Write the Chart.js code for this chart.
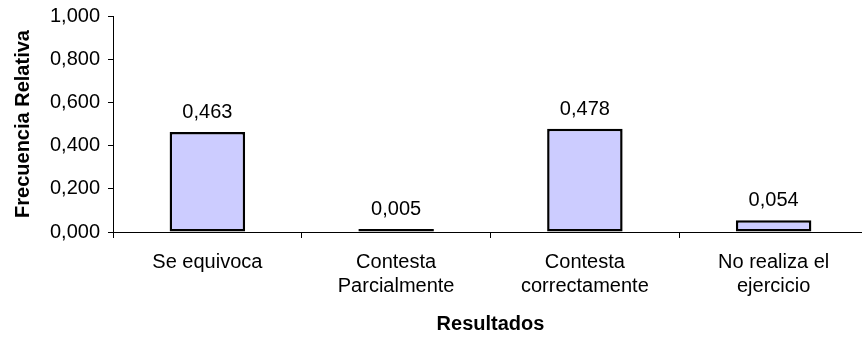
<!DOCTYPE html>
<html>
<head>
<meta charset="utf-8">
<script src="https://cdn.jsdelivr.net/npm/chart.js@4.4.1/dist/chart.umd.min.js"></script>
<style>
  html, body { margin: 0; padding: 0; background: #fff; overflow: hidden; }
  #wrap { width: 870px; height: 337px; }
</style>
</head>
<body>
<div id="wrap"><canvas id="resultChart" width="870" height="337"></canvas></div>
<script>
const categories = [
    ["Se equivoca"],
    ["Contesta", "Parcialmente"],
    ["Contesta", "correctamente"],
    ["No realiza el", "ejercicio"]
];
const frecuencias = [0.463, 0.005, 0.478, 0.054];
const yTicks = [0, 0.2, 0.4, 0.6, 0.8, 1.0];

const FONT = "'Liberation Sans', Arial, sans-serif";

// comma as decimal separator
function fmt(v) {
    return v.toFixed(3).replace(".", ",");
}

// draw value above every bar
const valueLabels = {
    id: "valueLabels",
    afterDatasetsDraw(chart) {
        const ctx = chart.ctx;
        const meta = chart.getDatasetMeta(0);
        ctx.save();
        ctx.font = "20px " + FONT;
        ctx.fillStyle = "#000";
        ctx.textAlign = "center";
        ctx.textBaseline = "alphabetic";
        meta.data.forEach((bar, i) => {
            ctx.fillText(fmt(frecuencias[i]), bar.x, bar.y - 14);
        });
        ctx.restore();
    }
};

new Chart(document.getElementById("resultChart"), {
    type: "bar",
    data: {
        labels: categories,
        datasets: [{
            label: "Frecuencia Relativa",
            data: frecuencias,
            backgroundColor: "#CCCCFF",
            borderColor: "#000",
            borderWidth: 2.5,
            borderSkipped: false,
            minBarLength: 3,
            categoryPercentage: 1,
            barPercentage: 0.4
        }]
    },
    options: {
        responsive: false,
        animation: false,
        devicePixelRatio: 1,
        layout: { padding: { top: 16, right: 2, left: 0, bottom: 0 } },
        plugins: {
            legend: { display: false },
            tooltip: { enabled: false }
        },
        scales: {
            x: {
                grid: {
                    offset: true,
                    drawOnChartArea: false,
                    color: "#000",
                    tickLength: 6
                },
                border: { color: "#000", width: 1 },
                ticks: {
                    color: "#000",
                    font: { family: FONT, size: 20 },
                    maxRotation: 0,
                    autoSkip: false,
                    padding: 12
                },
                title: {
                    display: true,
                    text: "Resultados",
                    color: "#000",
                    font: { family: FONT, size: 20, weight: "bold" },
                    padding: { top: 0, bottom: 1 }
                },
                afterFit(scale) {
                    scale.height = 105;
                    scale.paddingLeft = 0;
                    scale.paddingRight = 0;
                }
            },
            y: {
                min: 0,
                max: 1,
                afterBuildTicks(scale) {
                    scale.ticks = yTicks.map(v => ({ value: v }));
                },
                grid: {
                    drawOnChartArea: false,
                    color: "#000",
                    tickLength: 5
                },
                border: { color: "#000", width: 1 },
                ticks: {
                    color: "#000",
                    font: { family: FONT, size: 20 },
                    padding: 8,
                    callback: v => fmt(v)
                },
                title: {
                    display: true,
                    text: "Frecuencia Relativa",
                    color: "#000",
                    font: { family: FONT, size: 20, weight: "bold" },
                    padding: { top: 11, bottom: 0 }
                },
                afterFit(scale) {
                    scale.width = 113;
                    scale.paddingTop = 0;
                    scale.paddingBottom = 0;
                }
            }
        }
    },
    plugins: [valueLabels]
});
</script>
</body>
</html>
